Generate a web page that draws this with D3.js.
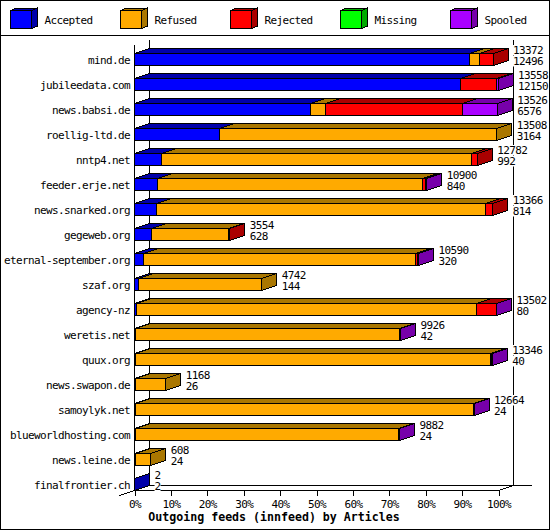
<!DOCTYPE html>
<html>
<head>
<meta charset="utf-8">
<script src="https://cdn.jsdelivr.net/npm/d3@7"></script>
<style>
  body { margin: 0; background: #fff; }
  text { font-family: "DejaVu Sans Mono", monospace; font-size: 11px; letter-spacing: -0.62px; fill: #000; }
  .title { font-size: 11.6px; letter-spacing: 0; font-weight: bold; }
</style>
</head>
<body>
<svg id="chart" width="550" height="530"></svg>
<script>
const hosts = ["mind.de", "jubileedata.com", "news.babsi.de", "roellig-ltd.de", "nntp4.net", "feeder.erje.net", "news.snarked.org", "gegeweb.org", "eternal-september.org", "szaf.org", "agency-nz", "weretis.net", "quux.org", "news.swapon.de", "samoylyk.net", "blueworldhosting.com", "news.leine.de", "finalfrontier.ch"];

// top label of each row (offered) and bottom label (accepted)
const totals = [13372, 13558, 13526, 13508, 12782, 10900, 13366, 3554, 10590, 4742, 13502, 9926, 13346, 1168, 12664, 9882, 608, 2];
const accepted = [12496, 12150, 6576, 3164, 992, 840, 814, 628, 320, 144, 80, 42, 40, 26, 24, 24, 24, 2];
const refused = [372, 0, 530, 10344, 11585, 9890, 12286, 2896, 10169, 4598, 12684, 9824, 13231, 1142, 12620, 9838, 584, 0];
const rejected = [504, 1368, 5140, 0, 205, 110, 266, 30, 70, 0, 730, 50, 40, 0, 0, 0, 0, 0];
const missing = [0, 0, 0, 0, 0, 0, 0, 0, 0, 0, 0, 0, 0, 0, 0, 0, 0, 0];
const spooled = [0, 40, 1280, 0, 0, 60, 0, 0, 31, 0, 8, 10, 35, 0, 20, 20, 0, 0];

const legendNames = ["Accepted", "Refused", "Rejected", "Missing", "Spooled"];
const faceColors = ["#0000ff", "#ffaa00", "#ff0000", "#00ff00", "#aa00ff"];
const sideColors = ["#0000aa", "#aa7700", "#aa0000", "#00aa00", "#7700aa"];
const percentTicks = [0, 10, 20, 30, 40, 50, 60, 70, 80, 90, 100];

const width = 550;
const height = 530;
const depthX = 15;
const depthY = 5;
const barHeight = 12;
const maxTotal = d3.max(totals);

const series = [accepted, refused, rejected, missing, spooled];

const svg = d3.select("#chart");

const pct = d3.scaleLinear().domain([0, 100]).range([134.5, 498.5]);
const articles = d3.scaleLinear().domain([0, maxTotal]).range([134.5, 498]);
const rowY = d3.scalePoint().domain(hosts).range([53.5, 478.5]);

const crisp = (sel) => sel.attr("shape-rendering", "crispEdges");

const box = (g, x0, x1, y, h, dx, dy, color, side, withSide) => {
  crisp(g.append("polygon"))
    .attr("points", [[x0, y], [x0 + dx, y - dy], [x1 + dx, y - dy], [x1, y]].join(" "))
    .attr("fill", side)
    .attr("stroke", "#000");
  crisp(g.append("rect"))
    .attr("x", x0)
    .attr("y", y)
    .attr("width", x1 - x0)
    .attr("height", h)
    .attr("fill", color)
    .attr("stroke", "#000");
  if (withSide) {
    crisp(g.append("polygon"))
      .attr("points", [[x1, y], [x1 + dx, y - dy], [x1 + dx, y + h - dy], [x1, y + h]].join(" "))
      .attr("fill", side)
      .attr("stroke", "#000");
  }
};

// frame and legend band
crisp(svg.append("rect"))
  .attr("x", 0.5).attr("y", 0.5)
  .attr("width", width - 1).attr("height", height - 1)
  .attr("fill", "#fff").attr("stroke", "#000");
crisp(svg.append("line"))
  .attr("x1", 0).attr("x2", width).attr("y1", 35.5).attr("y2", 35.5)
  .attr("stroke", "#000");

// walls behind the bars
const walls = svg.append("g").attr("stroke", "#000");
const backBase = 485.5;
const frontBase = 490.5;
const wallTop = 40;
[
  [pct(0) + depthX, wallTop, pct(0) + depthX, backBase],
  [pct(100) + depthX, wallTop, pct(100) + depthX, backBase],
  [pct(0) + depthX, backBase, 532, backBase],
  [pct(0), wallTop + depthY, pct(0), frontBase],
  [pct(0), frontBase, pct(100), frontBase],
  [pct(0) - depthX, frontBase + depthY, pct(0), frontBase],
  [pct(100), frontBase, pct(100) + depthX, backBase],
].forEach((d) => {
  crisp(walls.append("line"))
    .attr("x1", d[0]).attr("y1", d[1]).attr("x2", d[2]).attr("y2", d[3]);
});

// stacked bars
hosts.forEach((host, i) => {
  const g = svg.append("g").attr("class", "row");
  const y = rowY(host);
  const parts = series
    .map((values, s) => ({ s: s, value: values[i] }))
    .filter((d) => d.value > 0);
  let sum = 0;
  parts.forEach((d, k) => {
    const x0 = Math.floor(articles(sum)) + 0.5;
    sum += d.value;
    const x1 = Math.floor(articles(sum)) + 0.5;
    box(g, x0, x1, y, barHeight, depthX, depthY, faceColors[d.s], sideColors[d.s], k === parts.length - 1);
  });
});

// x axis
const axis = svg.append("g")
  .attr("transform", `translate(0,${frontBase})`)
  .call(d3.axisBottom(pct).tickValues(percentTicks).tickSize(5).tickPadding(5).tickFormat((d) => d + "%"));
axis.select(".domain").remove();
axis.selectAll("line").attr("stroke", "#000").attr("shape-rendering", "crispEdges");
axis.selectAll("text")
  .attr("font-family", null)
  .attr("font-size", null);
axis.attr("font-family", null).attr("font-size", null);

// value labels with their white backing
const labels = svg.append("g");
hosts.forEach((host, i) => {
  const x = articles(totals[i]) + 20;
  const y = rowY(host);
  [[totals[i], y + 0.5], [accepted[i], y + 11.5]].forEach((d) => {
    const txt = String(d[0]);
    labels.append("rect")
      .attr("x", x)
      .attr("y", d[1] - 9)
      .attr("width", txt.length * 6)
      .attr("height", 10.5)
      .attr("fill", "#fff");
    labels.append("text")
      .attr("x", x)
      .attr("y", d[1])
      .text(txt);
  });
});

// host names
svg.append("g")
  .selectAll("text")
  .data(hosts)
  .join("text")
  .attr("x", 130)
  .attr("y", (d) => rowY(d) + 10)
  .attr("text-anchor", "end")
  .text((d) => d);

// legend
legendNames.forEach((name, i) => {
  const g = svg.append("g");
  const x = 10.5 + i * 110;
  box(g, x, x + 21, 10.5, 18, 6, 2.5, faceColors[i], sideColors[i], true);
  g.append("text")
    .attr("x", x + 34)
    .attr("y", 24)
    .text(name);
});

svg.append("text")
  .attr("class", "title")
  .attr("x", 274)
  .attr("y", 521)
  .attr("text-anchor", "middle")
  .text("Outgoing feeds (innfeed) by Articles");
</script>
</body>
</html>
